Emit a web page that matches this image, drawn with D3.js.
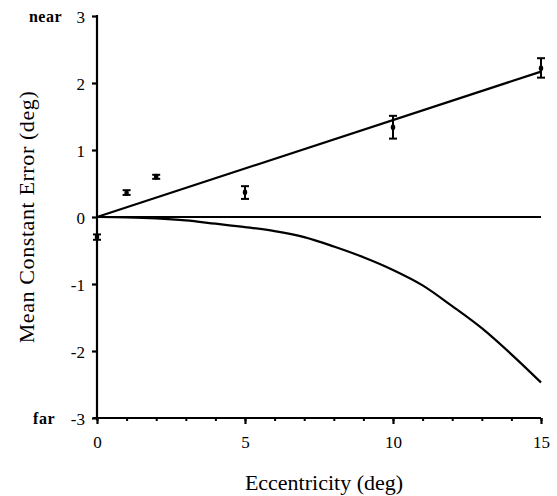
<!DOCTYPE html>
<html lang="en">
<head>
    <meta charset="UTF-8">
    <title>eccentricity</title>
    <script src="https://cdn.jsdelivr.net/npm/d3@7"></script>
    <style>
        body{ margin:0; background:#fff; }
        text{ font-family:"Liberation Serif","DejaVu Serif",serif; fill:#000; }
    </style>
</head>
<body>
</body>
<script type="text/javascript">

    // measured means with error bars
    let ecc = [0, 1, 2, 5, 10, 15];
    let meanErr = [-0.30, 0.36, 0.60, 0.37, 1.34, 2.22];
    let errLo = [-0.34, 0.33, 0.57, 0.27, 1.17, 2.08];
    let errHi = [-0.26, 0.40, 0.63, 0.46, 1.51, 2.37];

    // linear fit
    let fitX = [0, 15];
    let fitY = [0, 2.17];

    // model prediction curve
    let modelX = [0, 1, 2, 3, 4, 5, 6, 7, 8, 9, 10, 11, 12, 13, 14, 15];
    let modelY = [0, -0.005, -0.02, -0.05, -0.10, -0.15, -0.21, -0.30, -0.44, -0.60, -0.79, -1.02, -1.33, -1.66, -2.05, -2.47];

    let xTicks = [0, 5, 10, 15];
    let xMinor = d3.range(0, 16);
    let yTicks = [-3, -2, -1, 0, 1, 2, 3];

    let width = 557, height = 496;
    let mLeft = 97, mRight = 541, mTop = 16, mBottom = 418;

    let svg = d3.select("body").append("svg")
        .attr("width", width)
        .attr("height", height);

    let x = d3.scaleLinear().domain([0, 15]).range([mLeft, mRight]);
    let y = d3.scaleLinear().domain([-3, 3]).range([mBottom, mTop]);

    // y axis
    let yAxis = d3.axisLeft(y).tickValues(yTicks).tickSize(5).tickPadding(7)
        .tickFormat(d => d);
    let yg = svg.append("g").attr("transform", `translate(${mLeft},0)`);
    yAxis(yg);
    yg.attr("font-family", null);
    yg.select(".domain").attr("stroke-width", 2.2).attr("d", `M0,${mTop - 1}V${mBottom}`);
    yg.selectAll(".tick line").attr("stroke-width", 2.2);
    yg.selectAll(".tick text").style("font-size", "17px").attr("dy", "0.36em");

    // x axis minor ticks
    let xMinorAxis = d3.axisBottom(x).tickValues(xMinor).tickSize(3).tickFormat("");
    let xm = svg.append("g").attr("transform", `translate(0,${mBottom})`);
    xMinorAxis(xm);
    xm.select(".domain").remove();
    xm.selectAll(".tick line").attr("stroke-width", 2);

    // x axis major
    let xAxis = d3.axisBottom(x).tickValues(xTicks).tickSize(6).tickPadding(12);
    let xg = svg.append("g").attr("transform", `translate(0,${mBottom})`);
    xAxis(xg);
    xg.attr("font-family", null);
    xg.select(".domain").attr("stroke-width", 2.2).attr("d", `M${mLeft - 4},0H${mRight}`);
    xg.selectAll(".tick line").attr("stroke-width", 2.2);
    xg.selectAll(".tick text").style("font-size", "17px");

    // near / far
    svg.append("text").attr("x", 62).attr("y", y(3) + 6).attr("text-anchor", "end")
        .style("font-size", "16px").style("font-weight", "bold").style("letter-spacing", "0.5px").text("near");
    svg.append("text").attr("x", 55).attr("y", y(-3) + 6).attr("text-anchor", "end")
        .style("font-size", "16px").style("font-weight", "bold").style("letter-spacing", "0.5px").text("far");

    // axis titles
    svg.append("text").attr("x", 324).attr("y", 490).attr("text-anchor", "middle")
        .style("font-size", "22px").text("Eccentricity (deg)");
    svg.append("text").attr("transform", `translate(34,${y(0)}) rotate(-90)`).attr("text-anchor", "middle")
        .style("font-size", "22px").style("letter-spacing", "0.6px").text("Mean Constant Error (deg)");

    // zero line
    svg.append("line")
        .attr("x1", x(0)).attr("x2", x(15))
        .attr("y1", y(0)).attr("y2", y(0))
        .attr("stroke", "black").attr("stroke-width", 2);

    // fit line
    let fitData = fitX.map((d, i) => ({ x: d, y: fitY[i] }));
    svg.append("path").datum(fitData)
        .attr("fill", "none").attr("stroke", "black").attr("stroke-width", 2.2)
        .attr("d", d3.line().x(d => x(d.x)).y(d => y(d.y)));

    // model curve
    let modelData = modelX.map((d, i) => ({ x: d, y: modelY[i] }));
    svg.append("path").datum(modelData)
        .attr("fill", "none").attr("stroke", "black").attr("stroke-width", 2.2)
        .attr("d", d3.line().curve(d3.curveMonotoneX).x(d => x(d.x)).y(d => y(d.y)));

    // error bars
    let pts = ecc.map((d, i) => ({ x: d, m: meanErr[i], lo: errLo[i], hi: errHi[i] }));
    let eb = svg.append("g").selectAll("g").data(pts).join("g");
    eb.append("line")
        .attr("x1", d => x(d.x)).attr("x2", d => x(d.x))
        .attr("y1", d => y(d.lo)).attr("y2", d => y(d.hi))
        .attr("stroke", "black").attr("stroke-width", 2);
    eb.append("line")
        .attr("x1", d => x(d.x) - 4).attr("x2", d => x(d.x) + 4)
        .attr("y1", d => y(d.lo)).attr("y2", d => y(d.lo))
        .attr("stroke", "black").attr("stroke-width", 2);
    eb.append("line")
        .attr("x1", d => x(d.x) - 4).attr("x2", d => x(d.x) + 4)
        .attr("y1", d => y(d.hi)).attr("y2", d => y(d.hi))
        .attr("stroke", "black").attr("stroke-width", 2);
    eb.append("ellipse")
        .attr("cx", d => x(d.x)).attr("cy", d => y(d.m))
        .attr("rx", 2.2).attr("ry", 3)
        .attr("fill", "black");
</script>
</html>
